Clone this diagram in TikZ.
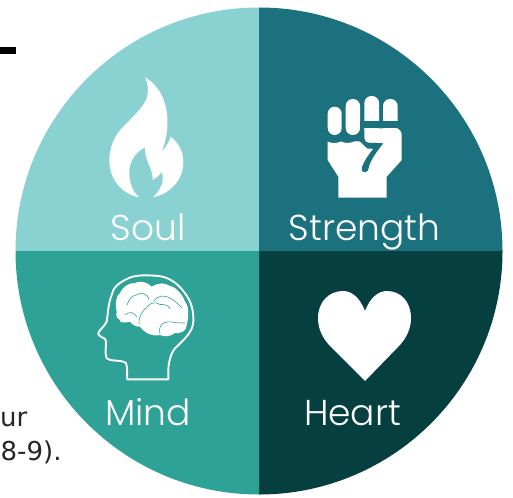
\documentclass[tikz,border=0pt]{standalone}
\usepackage{fontspec}
\setmainfont{Poppins Light}
\newfontfamily\bodyfont{DejaVu Sans}
\definecolor{soulc}{HTML}{8AD1D2}
\definecolor{strengthc}{HTML}{1B727E}
\definecolor{mindc}{HTML}{2EA296}
\definecolor{heartc}{HTML}{053F40}
\tikzset{
 lab/.style={text=white,font=\fontsize{36}{36}\selectfont,inner sep=0pt,anchor=base},
 body/.style={text=black!85,font=\bodyfont\fontsize{26}{26}\selectfont,inner sep=0pt,anchor=base west},
 icon/.style={fill=white,draw=none},
 crease/.style={draw=mindc,line width=0.6pt}
}
\begin{document}
\begin{tikzpicture}[x=1pt,y=-1pt]
\useasboundingbox (0,0) rectangle (513,497);
\fill[black] (0,47) rectangle (16,54);
\node[body] (t1) at (0,426.5) {ur};
\node[body] (t2) at (0.5,460.7) {8-9).};
% sectors
\fill[soulc] (259,251) -- (15.5,251) arc[start angle=180,end angle=90,x radius=243.5,y radius=-243.5] -- cycle;
\fill[strengthc] (259,251) -- (259,7.5) arc[start angle=90,end angle=0,x radius=243.5,y radius=-243.5] -- cycle;
\fill[heartc] (259,251) -- (502.5,251) arc[start angle=0,end angle=-90,x radius=243.5,y radius=-243.5] -- cycle;
\fill[mindc] (259,251) -- (259,494.5) arc[start angle=-90,end angle=-180,x radius=243.5,y radius=-243.5] -- cycle;
% flame
\fill[icon] (145,77.3) .. controls (158,85) and (168,100) .. (167.5,125)
 .. controls (167,137) and (164,145) .. (161.7,151.7)
 .. controls (166,147) and (169,142) .. (170.7,136.7)
 .. controls (179,143) and (183.5,152) .. (183.3,163)
 .. controls (183,180) and (170,194) .. (152.7,197.3)
 .. controls (160,191) and (165,182) .. (161.7,171.7)
 .. controls (159,176) and (156,178) .. (152.7,180)
 .. controls (153,168) and (144,160) .. (145,147.3)
 .. controls (134,153) and (129,163) .. (129.3,173.3)
 .. controls (129.5,184) and (133,192) .. (139.3,197.3)
 .. controls (122,194) and (109.5,180) .. (109.3,160)
 .. controls (109.5,145) and (116,134) .. (123.3,126.7)
 .. controls (133,116) and (150,103) .. (148,88)
 .. controls (147.5,84) and (146.5,80) .. (145,77.3) -- cycle;
% fist
\fill[icon,rounded corners=7pt] (327.7,135) rectangle (341.7,106.7);
\fill[icon,rounded corners=7pt] (345.7,135) rectangle (360,99);
\fill[icon,rounded corners=7pt] (364.3,135) rectangle (379,96);
\fill[icon,rounded corners=7pt] (383,135) rectangle (397.7,99);
\fill[strengthc] (362,120.7) rectangle (400,128.3);
\fill[white] (327.7,141.7) .. controls (332,143.5) and (337,143.5) .. (341,141.5)
 .. controls (345,143.5) and (350,143.5) .. (354,141.5) -- (360,141.5)
 -- (364.3,141.5) -- (364.3,128.3) -- (395,128.3)
 .. controls (399,128.3) and (401.7,131) .. (401.7,135)
 -- (401.7,160) -- (386.7,176.7) -- (386.7,197.7) -- (338.3,197.7) -- (338.3,176.7)
 -- (327.7,160) -- cycle;
\fill[strengthc] (360,120.7) rectangle (364.3,141.7);
\fill[strengthc] (360,141.5) -- (367.3,148.5) -- (373.3,148.8)
 .. controls (369,154) and (364,161) .. (361.9,167.3)
 .. controls (361,171) and (363,172.5) .. (365,172.3)
 .. controls (367.5,172) and (368.3,170) .. (368.6,168.3)
 .. controls (369.5,161) and (378,150) .. (383.3,143.3)
 -- (368.3,142.7) .. controls (366,142.5) and (364.3,140.5) .. (364.3,138.3) -- cycle;
% head
\draw[white,line width=1.9pt,line join=round] (127.3,379.3) -- (168.3,379.3)
 .. controls (168.5,372) and (168,366) .. (169.3,361.7)
 .. controls (170.5,356) and (172,352) .. (175,348.3)
 .. controls (185,339) and (193,331) .. (193.3,321.7)
 .. controls (193.8,310) and (191,301) .. (185,293.3)
 .. controls (177,282) and (167,276) .. (155,275.7)
 .. controls (145,275) and (135,275) .. (128.3,278.3)
 .. controls (118,283) and (113,288) .. (111.7,295)
 .. controls (108,304) and (108,314) .. (106.7,321.7)
 .. controls (104,327) and (98,331) .. (98.3,334)
 .. controls (99,337) and (104,337) .. (105.7,340)
 .. controls (107,346) and (104,352) .. (106.7,358.3)
 .. controls (110,362) and (120,359) .. (126,363)
 .. controls (128,368) and (126.5,374) .. (127.3,379.3) -- cycle;
% brain
\fill[icon] (116.7,311.7) .. controls (115,303) and (116,296) .. (120,293)
 .. controls (124,285) and (130,283) .. (135,283)
 .. controls (142,280) and (148,283) .. (151.7,286.7)
 .. controls (158,283) and (164,282) .. (170,286)
 .. controls (176,287) and (183,295) .. (185,301.7)
 .. controls (189,306) and (189,316) .. (186.7,325)
 .. controls (187,331) and (180,334) .. (175,333)
 .. controls (170,337) and (164,337) .. (160,335)
 .. controls (152,337) and (145,333) .. (140,326.7)
 .. controls (135,327) and (132,324) .. (130,321.7)
 .. controls (125,323) and (119,323) .. (120,320)
 .. controls (116,318) and (116,315) .. (116.7,311.7) -- cycle;
\draw[crease] (127,305) .. controls (129,300) and (131,296) .. (136,295)
 .. controls (141,292) and (148,293) .. (149,300);
\draw[crease] (125,315) .. controls (129,311) and (134,312) .. (137,317);
\draw[crease] (154,301) .. controls (158,295) and (164,295) .. (170,298)
 .. controls (174,300) and (178,304) .. (182,308);
\draw[crease] (139,324) .. controls (138,317) and (143,310) .. (148,306)
 .. controls (152,302) and (156,302) .. (160,304.5)
 .. controls (166,304) and (169,306) .. (170,309);
\draw[crease] (160,334) .. controls (158,325) and (163,321) .. (172,322)
 .. controls (178,323) and (182,323) .. (185,323);
% heart
\fill[icon] (365,381) -- (331,347)
 .. controls (322,338) and (318,328) .. (318,318)
 .. controls (318,302) and (329,291) .. (343,291)
 .. controls (352,291) and (360,298) .. (365,311)
 .. controls (370,298) and (378,291) .. (387,291)
 .. controls (401,291) and (411,302) .. (411,318)
 .. controls (411,328) and (407,338) .. (398,347) -- cycle;
% labels
\node[lab] (soul) at (148,240) {Soul};
\node[lab] (strength) at (364.5,240) {Strength};
\node[lab] (mind) at (148,425.5) {Mind};
\node[lab] (heart) at (352.5,425.5) {Heart};
\end{tikzpicture}
\end{document}
